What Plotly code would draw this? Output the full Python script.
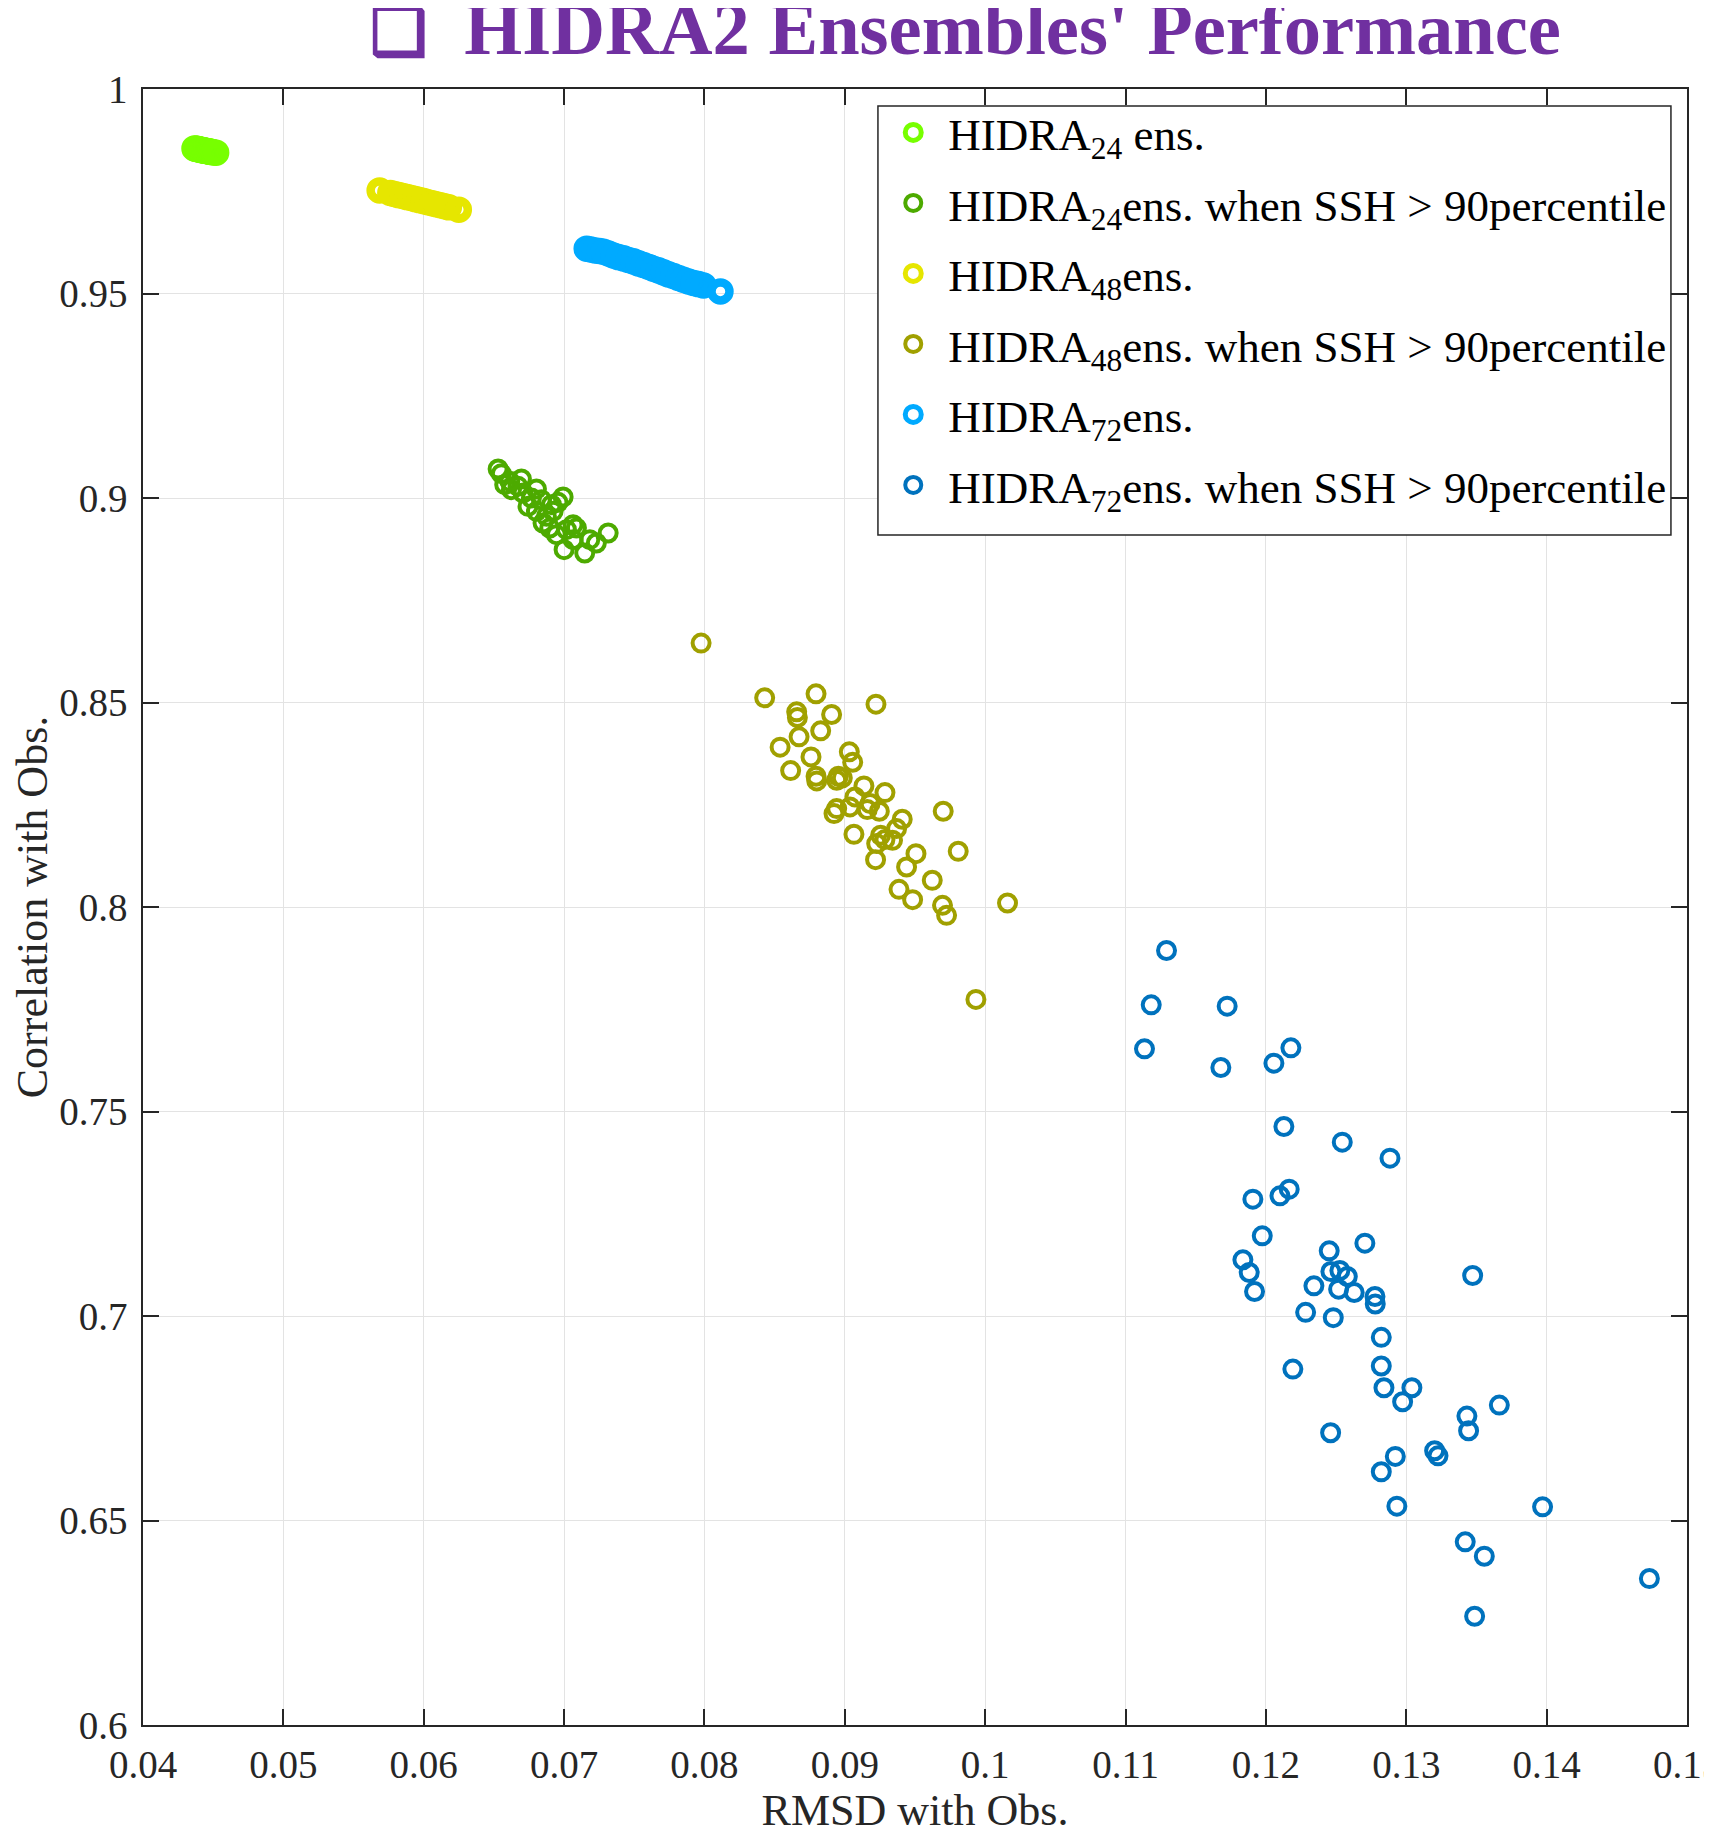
import plotly.graph_objects as go

# ---------------- data ----------------
h24_x = [0.04367, 0.04375, 0.04382, 0.04390, 0.04396, 0.04403, 0.04410, 0.04418, 0.04425, 0.04431,
         0.04438, 0.04446, 0.04452, 0.04460, 0.04468, 0.04475, 0.04483, 0.04492, 0.04505, 0.04521]
h24_y = [0.98548, 0.98541, 0.98540, 0.98530, 0.98527, 0.98520, 0.98516, 0.98508, 0.98506, 0.98498,
         0.98494, 0.98489, 0.98485, 0.98478, 0.98475, 0.98468, 0.98463, 0.98458, 0.98450, 0.98443]

h24ssh_x = [0.06530, 0.06553, 0.06696, 0.06577, 0.06625, 0.06672, 0.06803, 0.06708, 0.06767, 0.06838,
            0.06993, 0.06957, 0.06910, 0.06803, 0.06874, 0.06922, 0.07064, 0.06898, 0.07017, 0.06945,
            0.07000, 0.07064, 0.07147, 0.07183, 0.07230, 0.07314, 0.07088, 0.06850, 0.06743, 0.06613]
h24ssh_y = [0.90709, 0.90595, 0.90465, 0.90326, 0.90204, 0.90285, 0.90220, 0.90122, 0.90000, 0.89959,
            0.90024, 0.89894, 0.89837, 0.89674, 0.89552, 0.89674, 0.89348, 0.89267, 0.89226, 0.89104,
            0.88737, 0.88981, 0.88655, 0.88981, 0.88900, 0.89144, 0.89267, 0.89389, 0.89796, 0.90407]

h48_x = [0.05686, 0.05762, 0.05790, 0.05821, 0.05850, 0.05881, 0.05910, 0.05940, 0.05969,
         0.06000, 0.06029, 0.06060, 0.06088, 0.06119, 0.06148, 0.06179, 0.06250]
h48_y = [0.97521, 0.97458, 0.97435, 0.97408, 0.97384, 0.97358, 0.97335, 0.97308, 0.97284,
         0.97259, 0.97234, 0.97208, 0.97184, 0.97159, 0.97135, 0.97108, 0.97049]

h48ssh_x = [0.07976, 0.08429, 0.08795, 0.09222, 0.08657, 0.08662, 0.08906, 0.08828, 0.08674, 0.08539,
            0.08759, 0.08614, 0.09032, 0.09056, 0.08795, 0.08800, 0.08954, 0.08982, 0.08942, 0.09136,
            0.09286, 0.09072, 0.09037, 0.08942, 0.08923, 0.09160, 0.09246, 0.09180, 0.09701, 0.09409,
            0.09369, 0.09065, 0.09255, 0.09286, 0.09340, 0.09227, 0.09808, 0.09507, 0.09219, 0.09440,
            0.09623, 0.09386, 0.09483, 0.10159, 0.09696, 0.09725, 0.09934]
h48ssh_y = [0.86452, 0.85114, 0.85212, 0.84959, 0.84772, 0.84633, 0.84706, 0.84307, 0.84160, 0.83907,
            0.83670, 0.83336, 0.83793, 0.83540, 0.83197, 0.83083, 0.83197, 0.83157, 0.83100, 0.82961,
            0.82798, 0.82692, 0.82447, 0.82406, 0.82284, 0.82382, 0.82341, 0.82529, 0.82341, 0.82145,
            0.81917, 0.81778, 0.81754, 0.81648, 0.81631, 0.81550, 0.81362, 0.81305, 0.81158, 0.80979,
            0.80653, 0.80432, 0.80179, 0.80098, 0.80041, 0.79796, 0.77741]

h72_x = [0.07161, 0.07190, 0.07221, 0.07252, 0.07281, 0.07316, 0.07351, 0.07387, 0.07423, 0.07458,
         0.07494, 0.07530, 0.07565, 0.07601, 0.07636, 0.07672, 0.07708, 0.07743, 0.07779, 0.07815,
         0.07850, 0.07886, 0.07922, 0.07957, 0.07993, 0.08114]
h72_y = [0.96095, 0.96078, 0.96054, 0.96039, 0.96022, 0.95980, 0.95932, 0.95892, 0.95859, 0.95819,
         0.95786, 0.95737, 0.95697, 0.95656, 0.95607, 0.95566, 0.95517, 0.95468, 0.95428, 0.95379,
         0.95337, 0.95296, 0.95257, 0.95232, 0.95198, 0.95051]

h72ssh_x = [0.11292, 0.11183, 0.11724, 0.11135, 0.11679, 0.12057, 0.12178, 0.12128, 0.12544, 0.12884,
            0.11907, 0.12100, 0.12166, 0.11974, 0.11836, 0.11881, 0.11919, 0.12451, 0.12705, 0.12463,
            0.12527, 0.12580, 0.12342, 0.12518, 0.12629, 0.12777, 0.13473, 0.12779, 0.12283, 0.12480,
            0.12822, 0.12192, 0.12822, 0.12841, 0.13040, 0.12974, 0.13663, 0.13432, 0.13444, 0.12461,
            0.13202, 0.13226, 0.12922, 0.12822, 0.12933, 0.13971, 0.13420, 0.13556, 0.14732, 0.13487]
h72ssh_y = [0.78936, 0.77608, 0.77575, 0.76532, 0.76076, 0.76182, 0.76557, 0.74633, 0.74250, 0.73859,
            0.72857, 0.72938, 0.73101, 0.71960, 0.71373, 0.71064, 0.70599, 0.71593, 0.71781, 0.71088,
            0.71112, 0.70966, 0.70738, 0.70656, 0.70575, 0.70477, 0.70990, 0.70294, 0.70090, 0.69959,
            0.69478, 0.68703, 0.68777, 0.68246, 0.68246, 0.67904, 0.67822, 0.67553, 0.67194, 0.67145,
            0.66705, 0.66582, 0.66566, 0.66191, 0.65351, 0.65334, 0.64478, 0.64127, 0.63581, 0.62659]

names = ["HIDRA<sub>24</sub> ens.",
         "HIDRA<sub>24</sub>ens. when SSH &gt; 90percentile",
         "HIDRA<sub>48</sub>ens.",
         "HIDRA<sub>48</sub>ens. when SSH &gt; 90percentile",
         "HIDRA<sub>72</sub>ens.",
         "HIDRA<sub>72</sub>ens. when SSH &gt; 90percentile"]
colors = ["#77FF00", "#4DAA00", "#E6E600", "#A0A000", "#00AAFF", "#0072BD"]

x_ticks = [0.04, 0.05, 0.06, 0.07, 0.08, 0.09, 0.10, 0.11, 0.12, 0.13, 0.14, 0.15]
x_ticktext = ["0.04", "0.05", "0.06", "0.07", "0.08", "0.09", "0.1", "0.11", "0.12", "0.13", "0.14", "0.15"]
y_ticks = [0.6, 0.65, 0.7, 0.75, 0.8, 0.85, 0.9, 0.95, 1.0]
y_ticktext = ["0.6", "0.65", "0.7", "0.75", "0.8", "0.85", "0.9", "0.95", "1"]

series = [(h24_x, h24_y, True), (h24ssh_x, h24ssh_y, False),
          (h48_x, h48_y, True), (h48ssh_x, h48ssh_y, False),
          (h72_x, h72_y, True), (h72ssh_x, h72ssh_y, False)]

FONT = "Liberation Serif"
AX = "#262626"

fig = go.Figure()
for i, (xs, ys, dense) in enumerate(series):
    fig.add_trace(go.Scatter(
        x=xs, y=ys, mode="markers", name=names[i], legendgroup=str(i),
        marker=dict(symbol="circle-open", size=18 if dense else 17,
                    color=colors[i], line=dict(width=8.5 if dense else 4)),
    ))

axis_common = dict(
    showline=True, linecolor=AX, linewidth=1.5, mirror="ticks",
    ticks="inside", ticklen=16, tickwidth=1.5, tickcolor=AX,
    showgrid=True, gridcolor="#E3E3E3", gridwidth=1, zeroline=False,
    tickfont=dict(family=FONT, size=39, color=AX),
    ticklabeloverflow="allow", automargin=False,
)

fig.update_layout(
    width=1704, height=1827,
    margin=dict(l=135, r=25, t=81, b=110),
    paper_bgcolor="white", plot_bgcolor="white",
    font=dict(family=FONT, color=AX),
    xaxis=dict(range=[0.04, 0.15], tickvals=x_ticks, ticktext=x_ticktext,
               title=dict(text="RMSD with Obs.", font=dict(family=FONT, size=44, color=AX), standoff=4),
               ticklabelstandoff=4, **axis_common),
    yaxis=dict(range=[0.6, 1.0], tickvals=y_ticks, ticktext=y_ticktext,
               title=dict(text="Correlation with Obs.", font=dict(family=FONT, size=44, color=AX), standoff=8),
               ticklabelstandoff=6, **axis_common),
    legend=dict(x=0.4762, y=0.9953, xanchor="left", yanchor="top",
                bgcolor="rgba(0,0,0,0)", borderwidth=0,
                font=dict(family=FONT, size=45, color="black"),
                itemwidth=60, tracegroupgap=9),
    showlegend=True,
)

# legend frame
fig.add_shape(type="rect", xref="paper", yref="paper",
              x0=0.4760, x1=0.9896, y0=0.7274, y1=0.9896,
              line=dict(color=AX, width=1.5), fillcolor="white", layer="above")

fig.add_annotation(
    xref="paper", yref="paper", x=0.1457, y=1.0368, xanchor="left", yanchor="middle",
    text="<b><span style='font-size:64px'>\u2751</span>&nbsp; HIDRA2 Ensembles' Performance</b>",
    showarrow=False,
    font=dict(family=FONT, size=74.5, color="#7030A0"),
)

fig.write_html("out.html")
